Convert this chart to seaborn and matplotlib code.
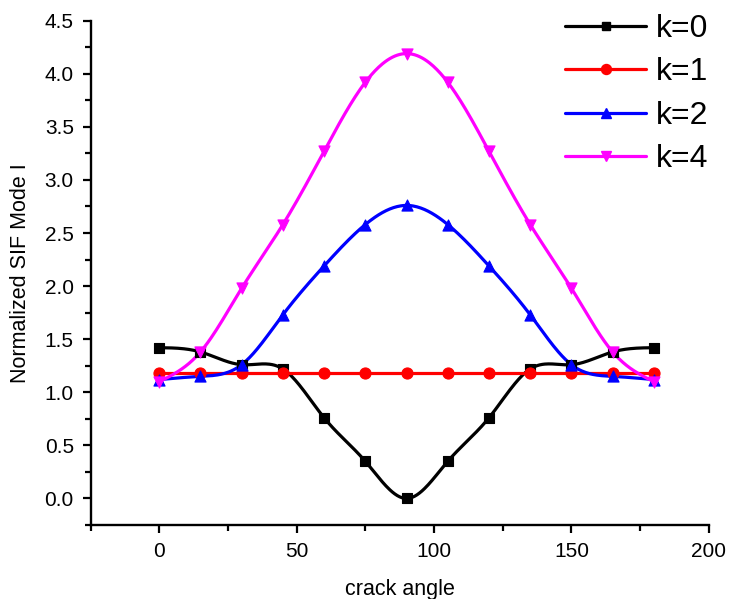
import numpy as np
import pandas as pd
import matplotlib
matplotlib.use("Agg")
import matplotlib.pyplot as plt
from matplotlib.lines import Line2D
from matplotlib.ticker import MultipleLocator, FormatStrFormatter
import seaborn as sns

# Crack angle (degrees) and normalized mode-I SIF for each k
angles = [0, 15, 30, 45, 60, 75, 90, 105, 120, 135, 150, 165, 180]
sif_k0 = [1.42, 1.38, 1.26, 1.22, 0.76, 0.35, 0.0, 0.35, 0.76, 1.22, 1.26, 1.38, 1.42]
sif_k1 = [1.18, 1.18, 1.18, 1.18, 1.18, 1.18, 1.18, 1.18, 1.18, 1.18, 1.18, 1.18, 1.18]
sif_k2 = [1.12, 1.15, 1.26, 1.73, 2.19, 2.58, 2.76, 2.58, 2.19, 1.73, 1.26, 1.15, 1.12]
sif_k4 = [1.10, 1.38, 1.98, 2.58, 3.27, 3.92, 4.19, 3.92, 3.27, 2.58, 1.98, 1.38, 1.10]

labels = ["k=0", "k=1", "k=2", "k=4"]
series = [sif_k0, sif_k1, sif_k2, sif_k4]
colors = ["#000000", "#ff0000", "#0000ff", "#ff00ff"]
markers = ["s", "o", "^", "v"]
msizes = [7.0, 8.0, 8.0, 8.0]


def natural_spline(x, y, n=400):
    """Smooth connecting curve through the measured points (natural cubic spline)."""
    x = np.asarray(x, float)
    y = np.asarray(y, float)
    m = len(x)
    h = np.diff(x)
    A = np.zeros((m, m))
    b = np.zeros(m)
    A[0, 0] = A[-1, -1] = 1.0
    for i in range(1, m - 1):
        A[i, i - 1] = h[i - 1]
        A[i, i] = 2 * (h[i - 1] + h[i])
        A[i, i + 1] = h[i]
        b[i] = 6 * ((y[i + 1] - y[i]) / h[i] - (y[i] - y[i - 1]) / h[i - 1])
    M = np.linalg.solve(A, b)
    xs = np.linspace(x[0], x[-1], n)
    idx = np.clip(np.searchsorted(x, xs) - 1, 0, m - 2)
    x0, x1 = x[idx], x[idx + 1]
    hh = x1 - x0
    t0, t1 = x1 - xs, xs - x0
    ys = (M[idx] * t0 ** 3 + M[idx + 1] * t1 ** 3) / (6 * hh) \
        + (y[idx] / hh - M[idx] * hh / 6) * t0 \
        + (y[idx + 1] / hh - M[idx + 1] * hh / 6) * t1
    return xs, ys


sns.set_theme(style="ticks")
plt.rcParams["font.family"] = ["Liberation Sans", "DejaVu Sans"]
plt.rcParams.update({"text.color": "black", "axes.labelcolor": "black",
                     "xtick.color": "black", "ytick.color": "black"})

fig = plt.figure(figsize=(7.30, 5.99), dpi=100)
ax = fig.add_axes([0.124, 0.1235, 0.847, 0.842])

points = pd.DataFrame({"angle": angles * 4,
                       "sif": sum(series, []),
                       "k": sum([[lab] * len(angles) for lab in labels], [])})

for lab, col, mk, ms in zip(labels, colors, markers, msizes):
    sub = points[points["k"] == lab]
    xs, ys = natural_spline(sub["angle"], sub["sif"])
    curve = pd.DataFrame({"angle": xs, "sif": ys})
    sns.lineplot(data=curve, x="angle", y="sif", color=col, lw=2.3,
                 ax=ax, legend=False, zorder=2)
    sns.scatterplot(data=sub, x="angle", y="sif", color=col, marker=mk,
                    s=ms ** 2, edgecolor=col, linewidth=0.8, ax=ax,
                    legend=False, zorder=3)

ax.set_xlim(-25, 200)
ax.set_ylim(-0.25, 4.5)
ax.xaxis.set_major_locator(MultipleLocator(50))
ax.xaxis.set_minor_locator(MultipleLocator(25))
ax.yaxis.set_major_locator(MultipleLocator(0.5))
ax.yaxis.set_minor_locator(MultipleLocator(0.25))
ax.yaxis.set_major_formatter(FormatStrFormatter("%.1f"))

for side in ["top", "right"]:
    ax.spines[side].set_visible(False)
for side in ["left", "bottom"]:
    ax.spines[side].set_linewidth(1.7)
    ax.spines[side].set_color("black")

ax.tick_params(which="major", direction="out", length=6, width=1.6,
               labelsize=15, colors="black", pad=6)
ax.tick_params(which="minor", direction="out", length=4, width=1.6,
               colors="black")

ax.set_xlabel("crack angle", fontsize=15.5, labelpad=13)
ax.set_ylabel("Normalized SIF Mode I", fontsize=15.5, labelpad=10)

handles = [Line2D([0], [0], color=c, lw=2.3, marker=m, markersize=ms * 0.9,
                  markerfacecolor=c, markeredgecolor=c)
           for c, m, ms in zip(colors, markers, msizes)]
ax.legend(handles, labels, loc="upper left",
          bbox_to_anchor=(565 / 730, 1 - 14 / 599), bbox_transform=fig.transFigure,
          frameon=False, fontsize=23, handlelength=2.55, handletextpad=0.3,
          labelspacing=0.42, borderpad=0, borderaxespad=0)

fig.savefig("out.png", dpi=100)
